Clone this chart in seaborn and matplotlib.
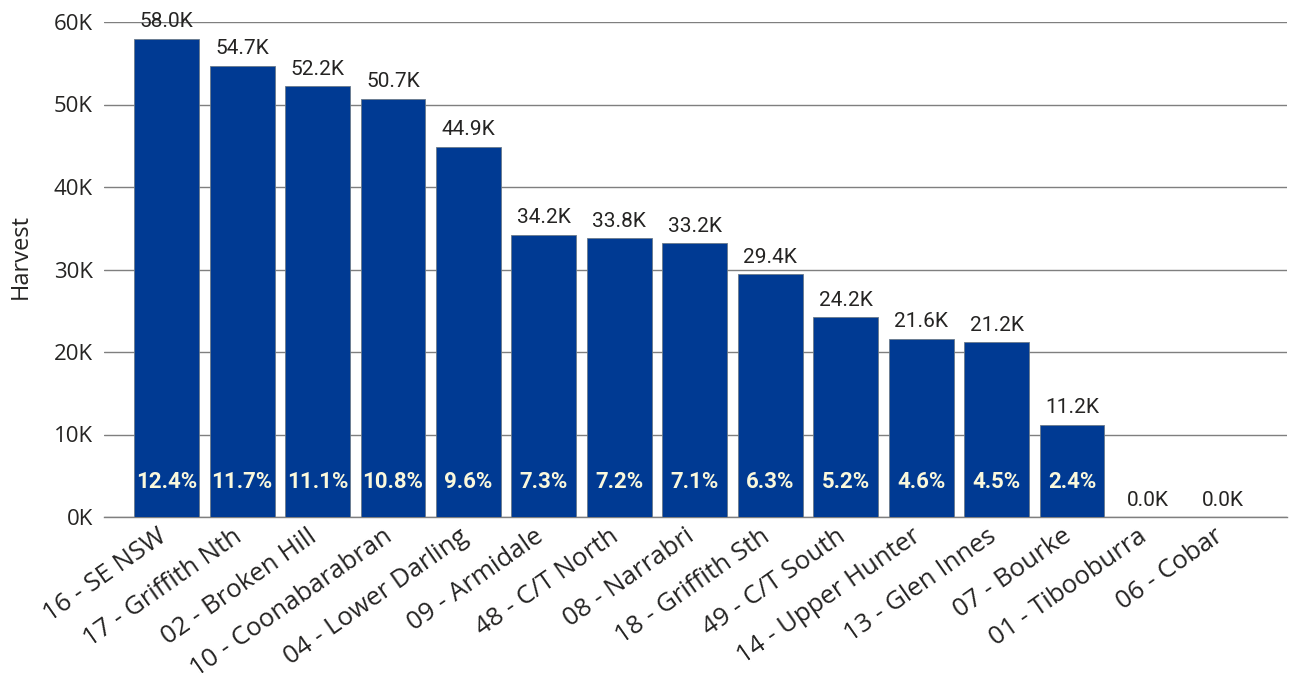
import matplotlib
matplotlib.use("Agg")
import matplotlib.pyplot as plt
import matplotlib.transforms as mtransforms
import seaborn as sns
import pandas as pd

categories = ["16 - SE NSW", "17 - Griffith Nth", "02 - Broken Hill", "10 - Coonabarabran",
              "04 - Lower Darling", "09 - Armidale", "48 - C/T North", "08 - Narrabri",
              "18 - Griffith Sth", "49 - C/T South", "14 - Upper Hunter", "13 - Glen Innes",
              "07 - Bourke", "01 - Tibooburra", "06 - Cobar"]
harvest = [58.0, 54.7, 52.2, 50.7, 44.9, 34.2, 33.8, 33.2, 29.4, 24.2, 21.6, 21.2, 11.2, 0.0, 0.0]  # thousands
percent = ["12.4%", "11.7%", "11.1%", "10.8%", "9.6%", "7.3%", "7.2%", "7.1%", "6.3%",
           "5.2%", "4.6%", "4.5%", "2.4%", "", ""]
yticks = [0, 10000, 20000, 30000, 40000, 50000, 60000]
ytick_labels = ["0K", "10K", "20K", "30K", "40K", "50K", "60K"]

df = pd.DataFrame({"Region": categories, "Harvest": [v * 1000 for v in harvest]})

sns.set_theme(style="white")
plt.rcParams['font.family'] = ['Open Sans', 'DejaVu Sans']

fig = plt.figure(figsize=(12.96, 6.83), dpi=100)
ax = fig.add_axes([104 / 1296, 1 - 517 / 683, (1287 - 104) / 1296, (517 - 22) / 683])

sns.barplot(data=df, x="Region", y="Harvest", color="#003A93", saturation=1,
            width=0.86, edgecolor="#6a7a8a", linewidth=0.6, ax=ax, zorder=3)

ax.set_ylim(0, 60000)
ax.set_xlim(-0.83, 14.85)
ax.set_yticks(yticks)
ax.set_yticklabels(ytick_labels, fontsize=16, color="#252423")
ax.yaxis.grid(True, color="#7f7f7f", linewidth=1.0, zorder=0)
ax.set_axisbelow(True)
for s in ["top", "right", "left"]:
    ax.spines[s].set_visible(False)
ax.spines["bottom"].set_color("#7f7f7f")
ax.spines["bottom"].set_linewidth(1.0)
ax.tick_params(axis="y", length=0, pad=8)
ax.tick_params(axis="x", length=0, pad=5)

ax.set_xticks(range(len(categories)))
ax.set_xticklabels(categories, rotation=35, ha="right", va="top", rotation_mode="anchor",
                   fontsize=18.5, color="#252423")
shift = mtransforms.ScaledTranslation(-10 / 100, 0, fig.dpi_scale_trans)
for lbl in ax.get_xticklabels():
    lbl.set_transform(lbl.get_transform() + shift)
ax.set_xlabel("")
ax.set_ylabel("Harvest", fontsize=17, color="#252423")
ax.yaxis.set_label_coords(-0.060, 0.527)

for i, (v, p) in enumerate(zip(harvest, percent)):
    ax.text(i, v * 1000 + 900, f"{v:.1f}K", ha="center", va="bottom",
            fontsize=15, color="#252423", family=["Roboto", "DejaVu Sans"])
    if p:
        ax.text(i, 4200, p, ha="center", va="center", fontsize=16, fontweight="bold",
                color="#FAF8DC", family=["Roboto", "DejaVu Sans"], zorder=5)

fig.savefig("out.png", dpi=100)
